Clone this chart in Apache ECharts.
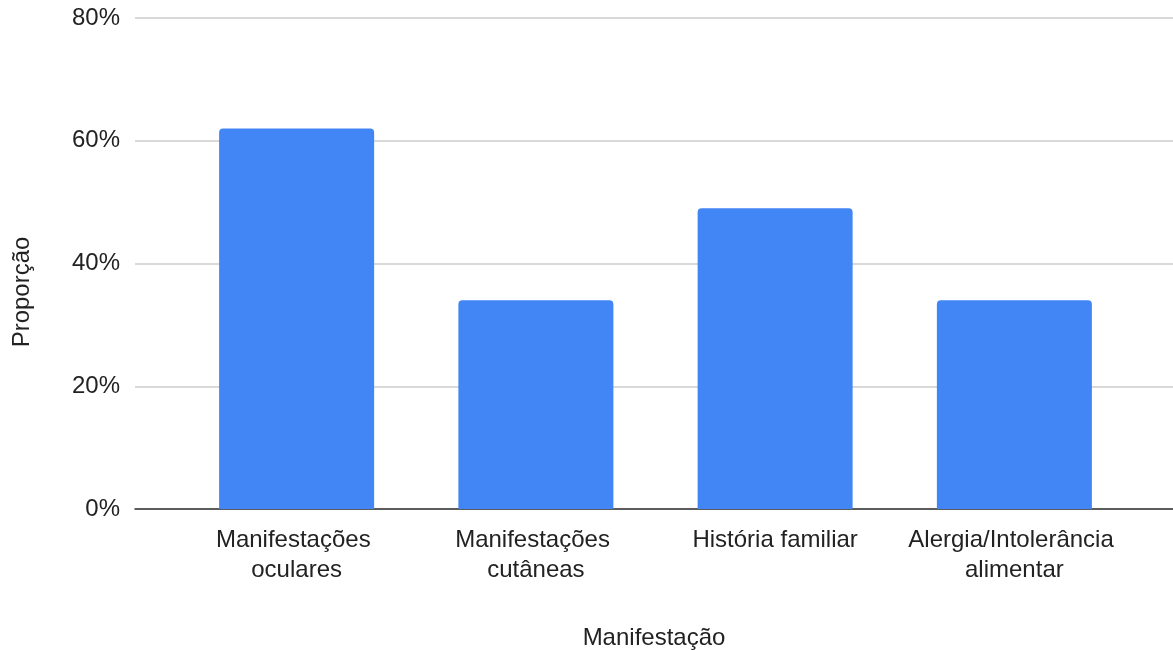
<!DOCTYPE html>
<html>
<head>
<meta charset="utf-8">
<title>Proporção por manifestação</title>
<script src="https://cdn.jsdelivr.net/npm/echarts@6/dist/echarts.min.js"></script>
<style>
  html, body { margin: 0; padding: 0; background: #ffffff; }
  #chart { width: 1173px; height: 650px; }
</style>
</head>
<body>
<div id="chart"></div>
<script>
// Categories and their proportions (%)
const categories = [
  'Manifestações oculares',
  'Manifestações cutâneas',
  'História familiar',
  'Alergia/Intolerância alimentar'
];
const proportions = [62, 34, 49, 34];
const yTicks = { min: 0, max: 80, interval: 20 };

const FONT = '"Liberation Sans", Arial, sans-serif';
const TEXT = '#222222';

const chart = echarts.init(document.getElementById('chart'), null, { renderer: 'canvas' });

chart.setOption({
  backgroundColor: '#ffffff',
  animation: false,
  textStyle: { fontFamily: FONT, color: TEXT },
  grid: [
    // frame: gridlines, baseline and tick labels
    { left: 135, right: 0, top: 18, bottom: 141, containLabel: false, outerBoundsMode: 'none' },
    // bar area
    { left: 177, right: 39, top: 18, bottom: 141, containLabel: false, outerBoundsMode: 'none' }
  ],
  xAxis: [
    {
      gridIndex: 0,
      type: 'value',
      min: 0,
      max: 1,
      axisLine: { show: true, lineStyle: { color: '#333333', width: 1.5 } },
      axisTick: { show: false },
      axisLabel: { show: false },
      splitLine: { show: false },
      name: 'Manifestação',
      nameLocation: 'middle',
      nameGap: 117,
      nameTextStyle: { fontFamily: FONT, fontSize: 24, color: TEXT }
    },
    {
      gridIndex: 1,
      type: 'category',
      data: categories,
      axisLine: { show: false },
      axisTick: { show: false },
      axisLabel: {
        fontFamily: FONT,
        fontSize: 24,
        color: TEXT,
        margin: 16,
        lineHeight: 30,
        width: 225,
        overflow: 'break',
        interval: 0
      }
    }
  ],
  yAxis: [
    {
      gridIndex: 0,
      type: 'value',
      min: yTicks.min,
      max: yTicks.max,
      interval: yTicks.interval,
      axisLine: { show: false },
      axisTick: { show: false },
      axisLabel: {
        formatter: '{value}%',
        fontFamily: FONT,
        fontSize: 24,
        color: TEXT,
        margin: 15
      },
      splitLine: { show: true, lineStyle: { color: '#cccccc', width: 1.5 } }
    },
    {
      gridIndex: 1,
      type: 'value',
      min: yTicks.min,
      max: yTicks.max,
      interval: yTicks.interval,
      axisLine: { show: false },
      axisTick: { show: false },
      axisLabel: { show: false },
      splitLine: { show: false }
    }
  ],
  graphic: [
    {
      type: 'text',
      x: 22,
      y: 292,
      rotation: Math.PI / 2,
      style: {
        text: 'Proporção',
        font: '24px ' + FONT,
        fill: TEXT,
        align: 'center',
        verticalAlign: 'middle'
      }
    }
  ],
  series: [
    {
      type: 'bar',
      xAxisIndex: 1,
      yAxisIndex: 1,
      data: proportions,
      barWidth: 155,
      itemStyle: { color: '#4285F4', borderRadius: [4, 4, 0, 0] }
    }
  ]
});
</script>
</body>
</html>
